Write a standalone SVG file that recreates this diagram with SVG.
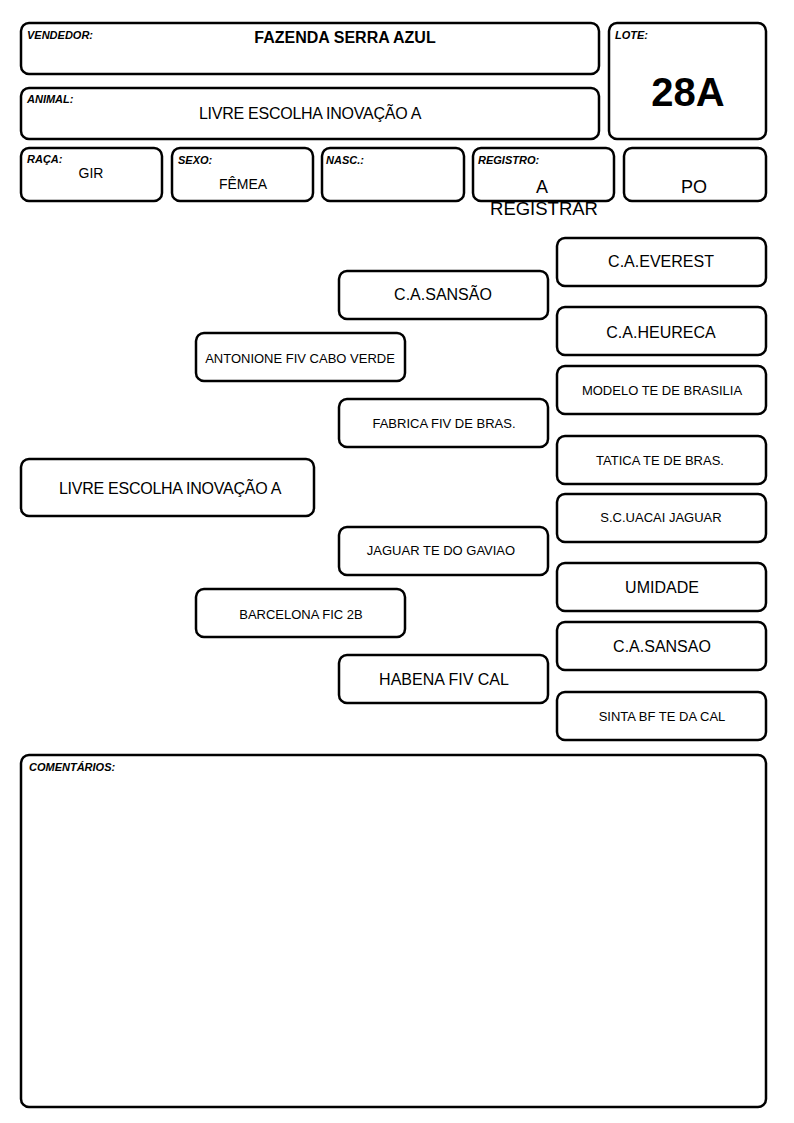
<svg xmlns="http://www.w3.org/2000/svg" width="794" height="1123" viewBox="0 0 794 1123">
<style>
rect{fill:#fff;stroke:#000;stroke-width:2.5}
text{font-family:"Liberation Sans",Arial,sans-serif;fill:#000}
.lb{font-size:11px;font-weight:bold;font-style:italic}
.c{text-anchor:middle}
.m{font-size:16px}
.s{font-size:13px}
.l{font-size:18px}
</style>
<rect width="794" height="1123" style="fill:#fff;stroke:none"/>
<g id="vendedor"><rect x="21" y="23" width="578" height="51" rx="8"/><text class="lb" x="27" y="39">VENDEDOR:</text><text class="c" x="345" y="43" style="font-size:16px;font-weight:bold">FAZENDA SERRA AZUL</text></g>
<g id="lote"><rect x="609" y="23" width="157" height="116" rx="8"/><text class="lb" x="615" y="39">LOTE:</text><text class="c" x="688" y="106" style="font-size:40px;font-weight:bold">28A</text></g>
<g id="animal"><rect x="21" y="88" width="578" height="51" rx="8"/><text class="lb" x="27" y="103">ANIMAL:</text><text class="c m" x="310" y="119" letter-spacing="-0.25">LIVRE ESCOLHA INOVAÇÃO A</text></g>
<g id="raca"><rect x="21" y="148" width="141" height="53" rx="8"/><text class="lb" x="27" y="163">RAÇA:</text><text class="c" x="91" y="178" style="font-size:14px">GIR</text></g>
<g id="sexo"><rect x="172" y="148" width="141" height="53" rx="8"/><text class="lb" x="178" y="164">SEXO:</text><text class="c" x="243" y="189" style="font-size:14px">FÊMEA</text></g>
<g id="nasc"><rect x="322" y="148" width="142" height="53" rx="8"/><text class="lb" x="326" y="164">NASC.:</text></g>
<g id="registro"><rect x="473" y="148" width="141" height="53" rx="8"/><text class="lb" x="478" y="164">REGISTRO:</text><text class="c l" x="542" y="193">A</text><text class="c" x="544" y="215" style="font-size:18.5px">REGISTRAR</text></g>
<g id="po"><rect x="624" y="148" width="142" height="53" rx="8"/><text class="c l" x="694" y="193">PO</text></g>
<g id="n-everest"><rect x="557" y="238" width="209" height="48" rx="8"/><text class="c m" x="661" y="267">C.A.EVEREST</text></g>
<g id="n-sansao1"><rect x="339" y="271" width="209" height="48" rx="8"/><text class="c m" x="443" y="300">C.A.SANSÃO</text></g>
<g id="n-heureca"><rect x="557" y="307" width="209" height="48" rx="8"/><text class="c m" x="661" y="338">C.A.HEURECA</text></g>
<g id="n-antonione"><rect x="196" y="333" width="209" height="48" rx="8"/><text class="c s" x="300" y="363">ANTONIONE FIV CABO VERDE</text></g>
<g id="n-modelo"><rect x="557" y="366" width="209" height="48" rx="8"/><text class="c s" x="662" y="395">MODELO TE DE BRASILIA</text></g>
<g id="n-fabrica"><rect x="339" y="399" width="209" height="48" rx="8"/><text class="c s" x="444" y="428">FABRICA FIV DE BRAS.</text></g>
<g id="n-tatica"><rect x="557" y="436" width="209" height="48" rx="8"/><text class="c s" x="660" y="465">TATICA TE DE BRAS.</text></g>
<g id="n-livre"><rect x="21" y="459" width="293" height="57" rx="8"/><text class="c m" x="170" y="494" letter-spacing="-0.25">LIVRE ESCOLHA INOVAÇÃO A</text></g>
<g id="n-uacai"><rect x="557" y="494" width="209" height="48" rx="8"/><text class="c s" x="661" y="522">S.C.UACAI JAGUAR</text></g>
<g id="n-jaguar"><rect x="339" y="527" width="209" height="48" rx="8"/><text class="c s" x="441" y="555">JAGUAR TE DO GAVIAO</text></g>
<g id="n-umidade"><rect x="557" y="563" width="209" height="48" rx="8"/><text class="c m" x="662" y="593">UMIDADE</text></g>
<g id="n-barcelona"><rect x="196" y="589" width="209" height="48" rx="8"/><text class="c s" x="301" y="619">BARCELONA FIC 2B</text></g>
<g id="n-sansao2"><rect x="557" y="622" width="209" height="48" rx="8"/><text class="c m" x="662" y="652">C.A.SANSAO</text></g>
<g id="n-habena"><rect x="339" y="655" width="209" height="48" rx="8"/><text class="c m" x="444" y="685">HABENA FIV CAL</text></g>
<g id="n-sinta"><rect x="557" y="692" width="209" height="48" rx="8"/><text class="c s" x="662" y="721">SINTA BF TE DA CAL</text></g>
<g id="connectors"></g>
<g id="comentarios"><rect x="21" y="755" width="745" height="352" rx="8"/><text class="lb" x="29" y="771">COMENTÁRIOS:</text></g>
</svg>
